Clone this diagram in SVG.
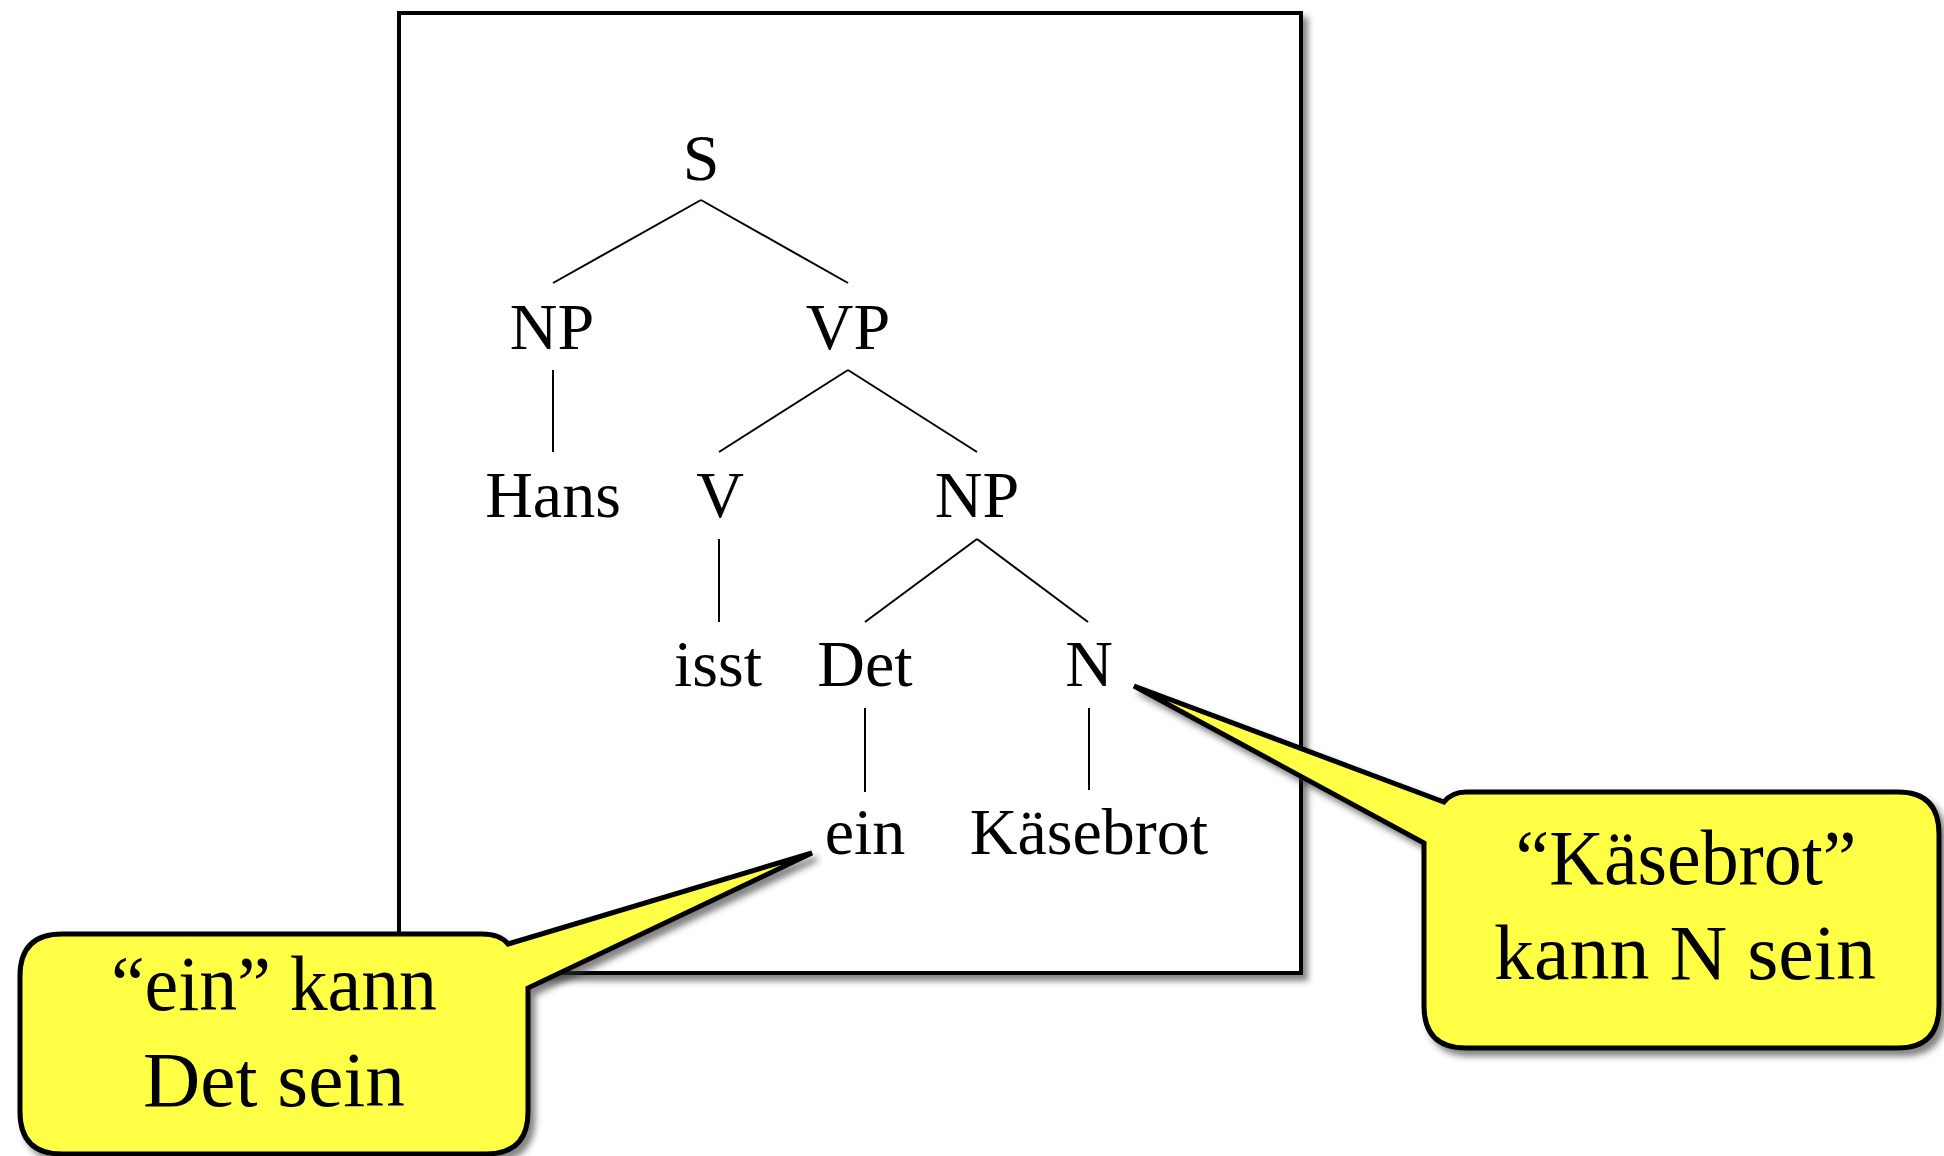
<svg xmlns="http://www.w3.org/2000/svg" width="1944" height="1156" viewBox="0 0 1944 1156">
<defs>
<filter id="shadow" x="-10%" y="-10%" width="130%" height="130%">
<feDropShadow dx="5" dy="6" stdDeviation="3" flood-color="#333" flood-opacity="0.6"/>
</filter>
<style>
.t{font-family:"Liberation Serif","DejaVu Serif",serif;font-size:66px;fill:#000;text-anchor:middle}
.c{font-family:"Liberation Serif","DejaVu Serif",serif;font-size:78px;fill:#000;text-anchor:middle}
.edge{stroke:#000;stroke-width:2;fill:none}
.frame{fill:#fff;stroke:#000;stroke-width:4}
.bubble{fill:#ffff44;stroke:#000;stroke-width:5;stroke-linejoin:miter;stroke-miterlimit:4}
</style>
</defs>
<rect width="1944" height="1156" fill="#fff"/>
<g id="frame"><rect class="frame" x="399" y="13" width="902" height="960" filter="url(#shadow)"/></g>
<g id="connectors">
<line class="edge" x1="701" y1="200" x2="553" y2="283"/>
<line class="edge" x1="701" y1="200" x2="848" y2="283"/>
<line class="edge" x1="553" y1="370" x2="553" y2="452"/>
<line class="edge" x1="848" y1="370" x2="719" y2="452"/>
<line class="edge" x1="848" y1="370" x2="977" y2="452"/>
<line class="edge" x1="719" y1="539" x2="719" y2="622"/>
<line class="edge" x1="977" y1="539" x2="865" y2="622"/>
<line class="edge" x1="977" y1="539" x2="1088" y2="622"/>
<line class="edge" x1="865" y1="708" x2="865" y2="792"/>
<line class="edge" x1="1089" y1="708" x2="1089" y2="790"/>
</g>
<g id="n-S"><text class="t" x="701" y="180">S</text></g>
<g id="n-NP1"><text class="t" x="552" y="349">NP</text></g>
<g id="n-VP"><text class="t" x="848" y="349">VP</text></g>
<g id="n-Hans"><text class="t" x="553" y="517">Hans</text></g>
<g id="n-V"><text class="t" x="720" y="517">V</text></g>
<g id="n-NP2"><text class="t" x="977" y="517">NP</text></g>
<g id="n-isst"><text class="t" x="718" y="686">isst</text></g>
<g id="n-Det"><text class="t" x="865" y="686">Det</text></g>
<g id="n-N"><text class="t" x="1089" y="686">N</text></g>
<g id="n-ein"><text class="t" x="865" y="854">ein</text></g>
<g id="n-Kaesebrot"><text class="t" x="1089" y="854">Käsebrot</text></g>
<g id="callout-ein">
<path class="bubble" filter="url(#shadow)" d="M62,934 H482 Q500,934 508,944 L812,853 L528,988 V1112 Q528,1154 486,1154 H62 Q20,1154 20,1112 V976 Q20,934 62,934 Z"/>
<text class="c" x="274" y="1010" textLength="326" lengthAdjust="spacingAndGlyphs">“ein” kann</text>
<text class="c" x="274" y="1106" textLength="262" lengthAdjust="spacingAndGlyphs">Det sein</text>
</g>
<g id="callout-Kaesebrot">
<path class="bubble" filter="url(#shadow)" d="M1466,792 H1898 Q1939,792 1939,834 V1006 Q1939,1048 1898,1048 H1466 Q1424,1048 1424,1006 V843 L1134,686 L1444,802 Q1452,792 1466,792 Z"/>
<text class="c" x="1686" y="884" textLength="341" lengthAdjust="spacingAndGlyphs">“Käsebrot”</text>
<text class="c" x="1685" y="979" textLength="382" lengthAdjust="spacingAndGlyphs">kann N sein</text>
</g>
</svg>
